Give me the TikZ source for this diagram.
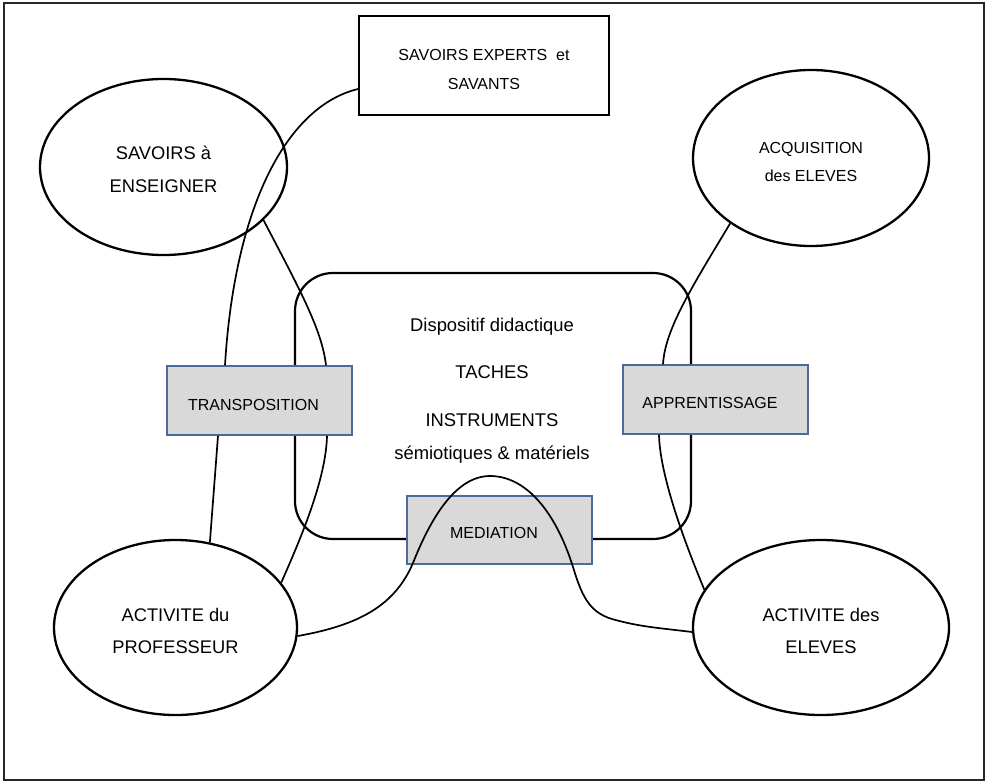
\documentclass[tikz,border=0pt]{standalone}
\usepackage{fontspec}
\setmainfont{Liberation Sans}
\usetikzlibrary{shapes.geometric}
\definecolor{boxfill}{HTML}{D9D9D9}
\definecolor{boxline}{HTML}{4A6C9B}
\begin{document}
\begin{tikzpicture}[x=1pt,y=-1pt,
  oval/.style={ellipse, draw, line width=2.3pt, inner sep=0pt, align=center},
  bigfont/.style={font=\fontsize{18.3}{32.5}\selectfont},
  graybox/.style={rectangle, draw=boxline, fill=boxfill, line width=1.5pt, inner sep=0pt,
    minimum width=185pt, minimum height=69pt, font=\fontsize{16}{19}\selectfont},
  link/.style={line width=1.7pt},
  bigtxt/.style={font=\fontsize{18.4}{22}\selectfont, anchor=base, inner sep=0pt}]
\useasboundingbox (0,0) rectangle (987,781);
\draw[line width=1.3pt, black!85] (4,3) rectangle (984,780);

% central rounded frame
\node[draw, line width=2.2pt, rounded corners=38pt, minimum width=396pt, minimum height=266pt, inner sep=0pt] (disp) at (493,406) {};
\node[bigtxt] (t1) at (492,331) {Dispositif didactique};
\node[bigtxt] (t2) at (492,378) {TACHES};
\node[bigtxt] (t3) at (492,426) {INSTRUMENTS};
\node[bigtxt] (t4) at (492,459) {sémiotiques \& matériels};

% top box
\node[draw, line width=1.6pt, minimum width=250pt, minimum height=99pt, inner sep=0pt, align=center,
  font=\fontsize{16}{29}\selectfont] (exp) at (484,65.5) {\rule{0pt}{19.5pt}SAVOIRS EXPERTS\ \ et\\SAVANTS};

% ellipses
\node[oval, bigfont, minimum width=247pt, minimum height=176pt] (ens) at (163.5,167) {\rule{0pt}{18.5pt}SAVOIRS à\\ENSEIGNER};
\node[oval, font=\fontsize{16}{28}\selectfont, minimum width=236pt, minimum height=176pt] (acq) at (811,158) {\rule{0pt}{19.5pt}ACQUISITION\\des ELEVES};
\node[oval, bigfont, minimum width=243pt, minimum height=175pt] (prof) at (175.5,627.5) {\rule{0pt}{20pt}ACTIVITE du\\PROFESSEUR};
\node[oval, bigfont, minimum width=256pt, minimum height=175pt] (eleves) at (821,627.5) {\rule{0pt}{20pt}ACTIVITE des\\ELEVES};

% gray boxes
\node[graybox] (trans) at (259.5,400.5) {\rule{0pt}{19.5pt}TRANSPOSITION\hspace*{12pt}};
\node[graybox] (appr) at (715.5,399.5) {\rule{0pt}{18.5pt}APPRENTISSAGE\hspace*{11pt}};
\node[graybox, minimum height=68pt] (med) at (499.5,530) {\rule{0pt}{17.5pt}MEDIATION\hspace*{11pt}};

% connectors
\draw[link] ([yshift=-23.5pt]exp.west) .. controls (290,105) and (235,200) .. ([xshift=-34.5pt]trans.north);
\draw[link] ([xshift=-41.5pt]trans.south) -- (prof.68);
\draw[link] (ens.-28) .. controls (300,290) and (322,330) .. ([xshift=66.5pt]trans.north);
\draw[link] ([xshift=67.5pt]trans.south) .. controls (326,480) and (300,540) .. (prof.23);
\draw[link] (acq.-141.5) .. controls (690,290) and (665,330) .. ([xshift=-52.5pt]appr.north);
\draw[link] ([xshift=-56.5pt]appr.south) .. controls (660,480) and (690,555) .. (eleves.162.8);
\draw[link] (prof.-4) .. controls (360,625) and (395,605) .. (413,563)
  .. controls (430,520) and (455,476) .. (490,476)
  .. controls (525,476) and (555,510) .. (573,567)
  .. controls (581,593) and (588,612) .. (612,619)
  .. controls (640,627) and (660,628) .. (eleves.-178);
\end{tikzpicture}
\end{document}
